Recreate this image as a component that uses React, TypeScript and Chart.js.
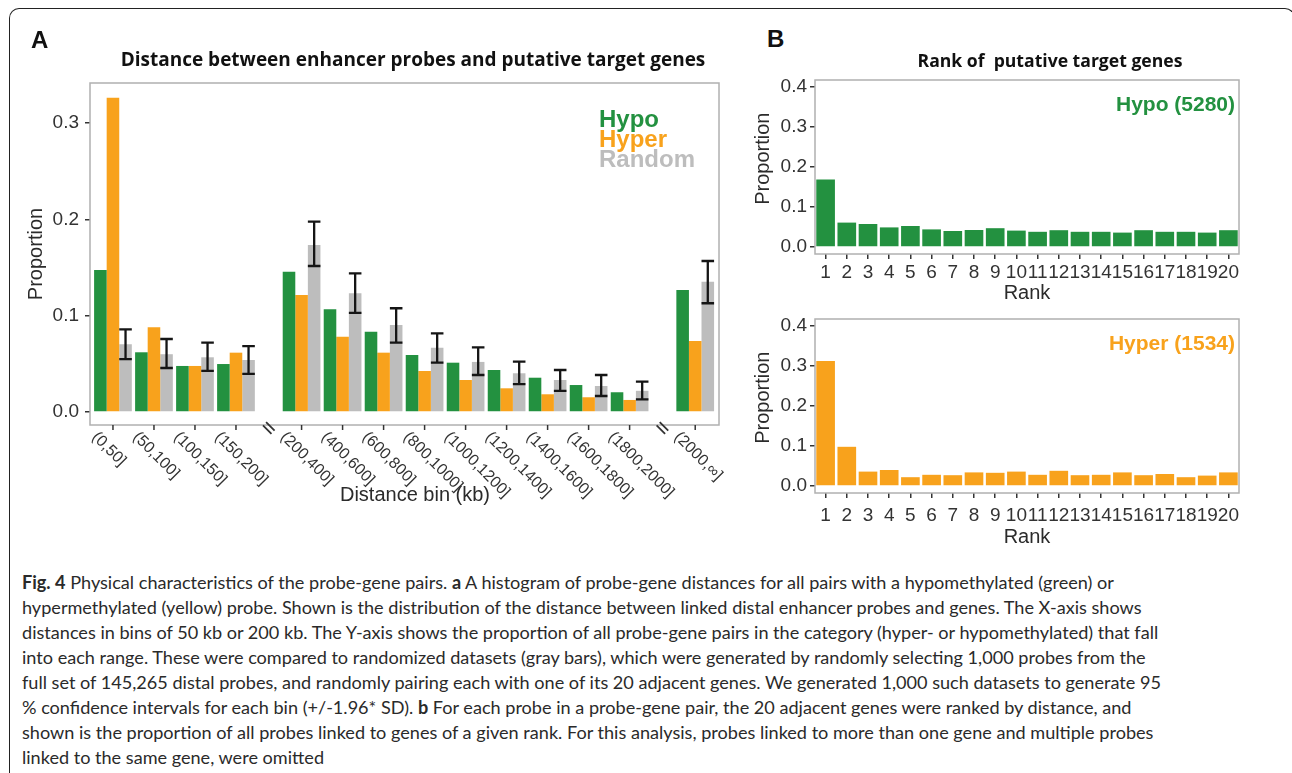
import React, { useEffect, useRef } from "react";
import { Chart, registerables } from "chart.js";
Chart.register(...registerables);

// ---------------- data ----------------
const distanceBins = ["(0,50]", "(50,100]", "(100,150]", "(150,200]", "(200,400]", "(400,600]", "(600,800]", "(800,1000]", "(1000,1200]", "(1200,1400]", "(1400,1600]", "(1600,1800]", "(1800,2000]", "(2000,\u221e]"];
const hypoDist = [0.1475, 0.062, 0.0478, 0.0498, 0.1457, 0.1066, 0.0834, 0.0592, 0.0512, 0.0436, 0.0356, 0.028, 0.0205, 0.1267];
const hyperDist = [0.3264, 0.088, 0.0478, 0.0616, 0.1215, 0.0782, 0.0616, 0.0426, 0.0332, 0.0246, 0.0184, 0.0153, 0.0125, 0.0737];
const randomDist = [0.0703, 0.06, 0.0568, 0.054, 0.1734, 0.1232, 0.0903, 0.0668, 0.052, 0.0402, 0.0332, 0.027, 0.022, 0.1353];
const randomLow = [0.055, 0.0457, 0.0426, 0.0395, 0.1516, 0.103, 0.072, 0.0512, 0.0384, 0.029, 0.022, 0.0166, 0.0132, 0.1129];
const randomHigh = [0.0858, 0.0758, 0.072, 0.0685, 0.1976, 0.144, 0.1077, 0.0817, 0.0672, 0.0522, 0.0436, 0.0384, 0.0315, 0.1568];
const distTicks = [0, 0.1, 0.2, 0.3];
const breakAfter = [3, 12];

const rankLabels = ["1", "2", "3", "4", "5", "6", "7", "8", "9", "10", "11", "12", "13", "14", "15", "16", "17", "18", "19", "20"];
const hypoRank = [0.169, 0.061, 0.0575, 0.049, 0.0525, 0.044, 0.04, 0.0425, 0.047, 0.041, 0.038, 0.042, 0.038, 0.038, 0.036, 0.042, 0.038, 0.038, 0.036, 0.042];
const hyperRank = [0.3125, 0.098, 0.036, 0.04, 0.022, 0.028, 0.027, 0.034, 0.033, 0.036, 0.028, 0.038, 0.027, 0.028, 0.034, 0.027, 0.03, 0.022, 0.026, 0.034];
const rankTicks = [0, 0.1, 0.2, 0.3, 0.4];

const captionLines: { t: string; b?: boolean }[][] = [
  [{ t: "Fig. 4", b: true }, { t: " Physical characteristics of the probe-gene pairs. " }, { t: "a", b: true }, { t: " A histogram of probe-gene distances for all pairs with a hypomethylated (green) or" }],
  [{ t: "hypermethylated (yellow) probe. Shown is the distribution of the distance between linked distal enhancer probes and genes. The X-axis shows" }],
  [{ t: "distances in bins of 50 kb or 200 kb. The Y-axis shows the proportion of all probe-gene pairs in the category (hyper- or hypomethylated) that fall" }],
  [{ t: "into each range. These were compared to randomized datasets (gray bars), which were generated by randomly selecting 1,000 probes from the" }],
  [{ t: "full set of 145,265 distal probes, and randomly pairing each with one of its 20 adjacent genes. We generated 1,000 such datasets to generate 95" }],
  [{ t: "% confidence intervals for each bin (+/-1.96* SD). " }, { t: "b", b: true }, { t: " For each probe in a probe-gene pair, the 20 adjacent genes were ranked by distance, and" }],
  [{ t: "shown is the proportion of all probes linked to genes of a given rank. For this analysis, probes linked to more than one gene and multiple probes" }],
  [{ t: "linked to the same gene, were omitted" }],
];

// ---------------- style ----------------
const FONT = '"Liberation Sans", Arial, Helvetica, sans-serif';
const GREEN = "#239140";
const ORANGE = "#f8a21c";
const GRAY = "#bdbdbd";
const FRAME = "#b0b0b0";
const INK = "#2b2b2b";
const BREAK_GAP = 0.6;

const xPos = (i: number) => i + breakAfter.filter((b) => i > b).length * BREAK_GAP;

const panelAPlugin = {
  id: "panelA",
  afterDatasetsDraw(chart: any) {
    const { ctx, chartArea: a, scales } = chart;
    const x = scales.x;
    const y = scales.y;
    ctx.save();
    // error bars on random bars
    const meta = chart.getDatasetMeta(2);
    ctx.strokeStyle = "#151515";
    ctx.lineWidth = 2.3;
    meta.data.forEach((bar: any, i: number) => {
      const bx = bar.x;
      const hw = bar.width / 2;
      const y1 = y.getPixelForValue(randomLow[i]);
      const y2 = y.getPixelForValue(randomHigh[i]);
      ctx.beginPath();
      ctx.moveTo(bx, y1);
      ctx.lineTo(bx, y2);
      ctx.moveTo(bx - hw, y1);
      ctx.lineTo(bx + hw, y1);
      ctx.moveTo(bx - hw, y2);
      ctx.lineTo(bx + hw, y2);
      ctx.stroke();
    });
    // frame
    ctx.strokeStyle = FRAME;
    ctx.lineWidth = 1.5;
    ctx.strokeRect(a.left, a.top, a.right - a.left, a.bottom - a.top);
    // x ticks and rotated labels
    ctx.strokeStyle = "#333";
    ctx.fillStyle = "#333";
    ctx.font = `16px ${FONT}`;
    distanceBins.forEach((lab, i) => {
      const px = x.getPixelForValue(xPos(i));
      ctx.beginPath();
      ctx.moveTo(px, a.bottom);
      ctx.lineTo(px, a.bottom + 5);
      ctx.stroke();
      ctx.save();
      ctx.translate(px - 13, a.bottom + 4);
      ctx.rotate(Math.PI / 4);
      ctx.textAlign = "left";
      ctx.textBaseline = "top";
      ctx.fillText(lab, 0, 0);
      ctx.restore();
    });
    // axis break marks (slanted double bars)
    ctx.strokeStyle = "#333";
    ctx.lineWidth = 1.8;
    breakAfter.forEach((b) => {
      const mid = (xPos(b) + xPos(b + 1)) / 2;
      const px = x.getPixelForValue(mid);
      ctx.save();
      ctx.translate(px, a.bottom + 3);
      ctx.rotate(Math.PI / 4);
      ctx.beginPath();
      ctx.moveTo(-6, -2.2);
      ctx.lineTo(6, -2.2);
      ctx.moveTo(-6, 2.2);
      ctx.lineTo(6, 2.2);
      ctx.stroke();
      ctx.restore();
    });
    // x axis title
    ctx.fillStyle = INK;
    ctx.font = `20px ${FONT}`;
    ctx.textAlign = "center";
    ctx.textBaseline = "middle";
    ctx.fillText("Distance bin (kb)", 415, 495);
    // legend
    ctx.font = `bold 24px ${FONT}`;
    ctx.textAlign = "left";
    const legend: [string, string][] = [["Hypo", GREEN], ["Hyper", ORANGE], ["Random", GRAY]];
    legend.forEach(([t, c], k) => {
      ctx.fillStyle = c;
      ctx.fillText(t, 599, 120 + k * 20);
    });
    ctx.restore();
  },
};

const rankPlugin = {
  id: "rankPanel",
  afterDatasetsDraw(chart: any, _args: any, opts: any) {
    const { ctx, chartArea: a } = chart;
    ctx.save();
    ctx.strokeStyle = FRAME;
    ctx.lineWidth = 1.5;
    ctx.strokeRect(a.left, a.top, a.right - a.left, a.bottom - a.top);
    ctx.fillStyle = opts.color;
    ctx.font = `bold 21px ${FONT}`;
    ctx.textAlign = "right";
    ctx.textBaseline = "middle";
    ctx.fillText(opts.text, a.right - 4, a.top + 25);
    ctx.restore();
  },
};

function yAxis(width: number, min: number, max: number, ticks: number[], pad: number, titlePad: number, titleText: string) {
  return {
    min,
    max,
    afterFit: (s: any) => {
      s.width = width;
    },
    afterBuildTicks: (s: any) => {
      s.ticks = ticks.map((v) => ({ value: v }));
    },
    ticks: {
      callback: (v: any) => Number(v).toFixed(1),
      font: { family: FONT, size: 19 },
      color: "#333",
      padding: pad,
    },
    grid: { drawOnChartArea: false, drawTicks: true, tickLength: 5, color: "#333", lineWidth: 1.5 },
    border: { display: false },
    title: {
      display: true,
      text: titleText,
      color: INK,
      font: { family: FONT, size: 20, lineHeight: 1.2 },
      padding: { top: titlePad, bottom: 0 },
    },
  };
}

function makeRankChart(canvas: HTMLCanvasElement, values: number[], color: string, text: string, top: number, xHeight: number, labPad: number, titlePadB: number) {
  return new Chart(canvas, {
    type: "bar",
    data: {
      labels: rankLabels,
      datasets: [{ data: values, backgroundColor: color, categoryPercentage: 0.88, barPercentage: 1 }],
    },
    options: {
      animation: false,
      responsive: false,
      layout: { padding: { top, right: 53, left: 0, bottom: 0 } },
      plugins: { legend: { display: false }, tooltip: { enabled: false }, rankPanel: { color, text } } as any,
      scales: {
        x: {
          type: "category",
          offset: true,
          afterFit: (s: any) => {
            s.height = xHeight;
          },
          ticks: { font: { family: FONT, size: 19 }, color: "#333", padding: labPad, maxRotation: 0, minRotation: 0, autoSkip: false },
          grid: { drawOnChartArea: false, drawTicks: true, tickLength: 5, color: "#333", lineWidth: 1.5, offset: false },
          border: { display: false },
          title: { display: true, text: "Rank", color: INK, font: { family: FONT, size: 20, lineHeight: 1.2 }, padding: { top: 0, bottom: titlePadB } },
        },
        y: yAxis(85, -0.0175, 0.4175, rankTicks, 3, 21, "   Proportion") as any,
      },
    },
    plugins: [rankPlugin],
  });
}

export default function App() {
  const aRef = useRef<HTMLCanvasElement>(null);
  const b1Ref = useRef<HTMLCanvasElement>(null);
  const b2Ref = useRef<HTMLCanvasElement>(null);

  useEffect(() => {
    const charts: Chart[] = [];
    if (aRef.current) {
      charts.push(
        new Chart(aRef.current, {
          type: "bar",
          data: {
            datasets: [
              { label: "Hypo", data: hypoDist.map((v, i) => ({ x: xPos(i), y: v })), backgroundColor: GREEN },
              { label: "Hyper", data: hyperDist.map((v, i) => ({ x: xPos(i), y: v })), backgroundColor: ORANGE },
              { label: "Random", data: randomDist.map((v, i) => ({ x: xPos(i), y: v })), backgroundColor: GRAY },
            ] as any,
          },
          options: {
            animation: false,
            responsive: false,
            layout: { padding: { top: 83, right: 11, bottom: 95, left: 0 } },
            plugins: { legend: { display: false }, tooltip: { enabled: false } },
            datasets: { bar: { categoryPercentage: 0.92, barPercentage: 1 } },
            scales: {
              x: { type: "linear", display: false, min: -0.56, max: 14.78, offset: false },
              y: yAxis(90, -0.0135, 0.3416, distTicks, 6, 24, "Proportion") as any,
            },
          },
          plugins: [panelAPlugin],
        })
      );
    }
    if (b1Ref.current) charts.push(makeRankChart(b1Ref.current, hypoRank, GREEN, "Hypo (5280)", 20, 56, 2, 5));
    if (b2Ref.current) charts.push(makeRankChart(b2Ref.current, hyperRank, ORANGE, "Hyper (1534)", 19, 57, 6, 1));
    return () => charts.forEach((c) => c.destroy());
  }, []);

  const abs = (l: number, t: number, w: number, h: number): React.CSSProperties => ({ position: "absolute", left: l, top: t, width: w, height: h });

  return (
    <div style={{ position: "fixed", left: 0, top: 0, width: 1292, height: 773, overflow: "hidden", background: "#fff", fontFamily: FONT }}>
      <div
        style={{
          position: "absolute",
          left: 9,
          top: 8,
          width: 1286,
          height: 900,
          boxSizing: "border-box",
          borderTop: "1.5px solid #222",
          borderLeft: "1.5px solid #222",
          borderRight: "1.5px solid #222",
          borderTopLeftRadius: 10,
          borderTopRightRadius: 10,
        }}
      />
      <canvas ref={aRef} width={730} height={520} style={{ ...abs(0, 0, 730, 520) }} />
      <canvas ref={b1Ref} width={562} height={250} style={{ ...abs(730, 60, 562, 250) }} />
      <canvas ref={b2Ref} width={562} height={250} style={{ ...abs(730, 300, 562, 250) }} />

      <div style={{ position: "absolute", left: 31, top: 28, font: `bold 24px ${FONT}`, lineHeight: "24px", color: "#111" }}>A</div>
      <div style={{ position: "absolute", left: 767, top: 27, font: `bold 24px ${FONT}`, lineHeight: "24px", color: "#111" }}>B</div>

      <div style={{ position: "absolute", left: 13, top: 47, width: 800, textAlign: "center", font: `700 19px "Open Sans", sans-serif`, lineHeight: "24px", color: "#111", whiteSpace: "pre" }}>
        Distance between enhancer probes and putative target genes
      </div>
      <div style={{ position: "absolute", left: 850, top: 48, width: 400, textAlign: "center", font: `700 17.6px "Open Sans", sans-serif`, lineHeight: "24px", color: "#111", whiteSpace: "pre" }}>
        {"Rank of  putative target genes"}
      </div>

      {captionLines.map((line, k) => (
        <div key={k} style={{ position: "absolute", left: 22, top: 570 + k * 25, font: `18.1px Lato, sans-serif`, lineHeight: "25px", color: "#2a2a2a", whiteSpace: "pre" }}>
          {line.map((seg, j) => (
            <span key={j} style={{ fontWeight: seg.b ? 700 : 400 }}>
              {seg.t}
            </span>
          ))}
        </div>
      ))}
    </div>
  );
}
